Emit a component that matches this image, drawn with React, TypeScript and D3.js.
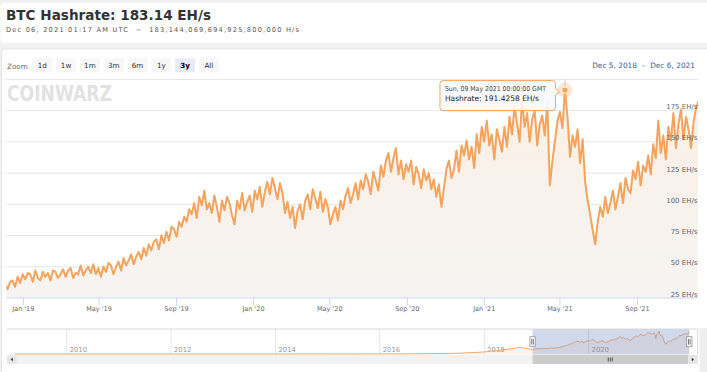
import * as d3 from "d3";

// main series: one value every 4 days from startDate (EH/s)
const startDate = "2018-12-03";
const stepDays = 4;
const hashrate = [
  36, 32, 38, 39, 34, 42, 37, 44,
  40, 45, 44, 38, 47, 41, 39, 46,
  42, 45, 39, 47, 46, 41, 44, 48,
  42, 47, 49, 41, 45, 44, 51, 43,
  47, 50, 45, 52, 44, 49, 42, 50,
  46, 53, 51, 44, 50, 54, 47, 57,
  51, 55, 60, 52, 58, 62, 56, 65,
  59, 68, 63, 70, 72, 64, 75, 69,
  78, 71, 82, 80, 74, 86, 82, 90,
  86, 96, 92, 101, 89, 106, 99, 111,
  96, 101, 93, 107, 98, 86, 103, 95,
  106, 101, 91, 84, 103, 96, 109, 95,
  102, 107, 94, 111, 104, 114, 98, 110,
  118, 108, 121, 113, 104, 117, 109, 93,
  102, 89, 98, 81, 95, 100, 88, 103,
  108, 96, 112, 105, 97, 110, 94, 104,
  98, 84, 92, 98, 87, 103, 96, 107,
  113, 101, 108, 117, 104, 119, 112, 124,
  118, 108, 126, 119, 111, 131, 122, 135,
  141, 126, 137, 145, 124, 135, 120, 132,
  126, 135, 116, 130, 124, 113, 128, 119,
  125, 112, 120, 106, 116, 98, 113, 128,
  135, 121, 128, 143, 126, 147, 139, 151,
  136, 146, 129, 156, 141, 162, 150, 167,
  147, 156, 136, 160, 152, 142, 162, 146,
  170, 156, 178, 165, 150, 184, 162, 173,
  150, 168, 175, 147, 164, 171, 155, 181,
  115, 134, 150, 166, 174, 161, 191.4258, 170,
  138, 155, 146, 160, 133, 152, 118, 103,
  92, 79, 68, 86, 98, 90, 106, 93,
  101, 111, 96, 106, 117, 101, 121, 112,
  109, 127, 120, 134, 115, 131, 126, 139,
  124, 148, 137, 167, 141, 155, 136, 162,
  151, 173, 145, 164, 176, 152, 170, 160,
  145, 166, 177, 183.14,
];

// older history, only shown in the navigator
const historyDates = [
  "2009-01-03", "2010-01-01", "2011-01-01", "2012-01-01", "2013-01-01",
  "2014-01-01", "2015-01-01", "2016-01-01", "2016-07-01", "2017-01-01",
  "2017-07-01", "2018-01-01", "2018-04-01", "2018-07-01", "2018-09-01", "2018-11-01",
];
const historyValues = [0, 0, 0, 0.01, 0.02, 0.01, 0.3, 0.8, 1.5, 2.5, 6, 16, 28, 40, 52, 45];

const xTickDates = [
  "2019-01-01", "2019-05-01", "2019-09-01", "2020-01-01", "2020-05-01",
  "2020-09-01", "2021-01-01", "2021-05-01", "2021-09-01",
];
const xTickLabels = ["Jan '19", "May '19", "Sep '19", "Jan '20", "May '20", "Sep '20", "Jan '21", "May '21", "Sep '21"];
const yTicks = [25, 50, 75, 100, 125, 150, 175, 200];
const navYears = [2010, 2012, 2014, 2016, 2018, 2020];
const zoomButtons = ["1d", "1w", "1m", "3m", "6m", "1y", "3y", "All"];
const selectedButton = "3y";
const rangeStart = "2018-12-05";
const rangeEnd = "2021-12-06";
const navStart = "2008-11-09";
const peakDate = "2021-05-09";

const parse = d3.utcParse("%Y-%m-%d");
const ORANGE = "#f7a35c";
const FONT = "DejaVu Sans";

export default function App() {
  const W = 707;
  const H = 372;
  const plot = { left: 6.3, right: 698, top: 79.4, bottom: 298 };
  const nav = { left: 7, right: 697.7, top: 329, bottom: 354.5 };

  const start = parse(startDate)!;
  const series = hashrate.map((v, i) => ({ date: d3.utcDay.offset(start, i * stepDays), value: v }));

  const x = d3.scaleUtc().domain([parse(rangeStart)!, parse(rangeEnd)!]).range([plot.left, plot.right]);
  const y = d3.scaleLinear().domain([25, 200]).range([plot.bottom, plot.top]);

  const line = d3.line<{ date: Date; value: number }>().x(d => x(d.date)).y(d => y(d.value));
  const area = d3.area<{ date: Date; value: number }>().x(d => x(d.date)).y0(plot.bottom).y1(d => y(d.value));

  const peak = series.find(d => +d.date === +parse(peakDate)!)!;
  const px = x(peak.date);
  const py = y(peak.value);

  // navigator data: history + pairs of the main series averaged
  const navData = historyDates.map((d, i) => ({ date: parse(d)!, value: historyValues[i] }));
  for (let i = 0; i < series.length; i += 2) {
    const grp = series.slice(i, i + 2);
    navData.push({ date: grp[0].date, value: d3.mean(grp, d => d.value)! });
  }
  const nx = d3.scaleUtc().domain([parse(navStart)!, parse(rangeEnd)!]).range([nav.left, 689.3]);
  const ny = d3.scaleLinear().domain([0, d3.max(navData, d => d.value)!]).range([nav.bottom - 0.5, nav.top + 2.5]);
  const navLine = d3.line<{ date: Date; value: number }>().x(d => nx(d.date)).y(d => ny(d.value));
  const navArea = d3.area<{ date: Date; value: number }>().x(d => nx(d.date)).y0(nav.bottom).y1(d => ny(d.value));
  const maskL = nx(parse(rangeStart)!);
  const maskR = nx(parse(rangeEnd)!);

  const fmtValue = d3.format(".4f");
  const tipR = px - 9.5;
  const tipL = tipR - 115.5;
  const tipT = py - 9.5;
  const tipB = py + 20.5;

  return (
    <svg width={W} height={H} style={{ position: "absolute", left: 0, top: 0 }} fontFamily={FONT}>
      <defs>
        <clipPath id="plotClip">
          <rect x={plot.left} y={plot.top - 12} width={plot.right - plot.left} height={plot.bottom - plot.top + 12} />
        </clipPath>
        <linearGradient id="areaFill" gradientUnits="userSpaceOnUse" x1="0" y1={plot.top} x2="0" y2={plot.bottom}>
          <stop offset="0" stopColor="#fbefe4" />
          <stop offset="1" stopColor="#f6f4f2" />
        </linearGradient>
      </defs>

      <rect width={W} height={H} fill="#f1f1f1" />
      <rect x={0.5} y={3} width={W + 5} height={40} rx={4} fill="#fff" />
      <rect x={1.5} y={49} width={W + 5} height={H} rx={4} fill="#fff" stroke="#e4e4e4" />

      <text x={6} y={20} fontSize={13.5} fontWeight="bold" fill="#333" textLength={205} lengthAdjust="spacingAndGlyphs">
        BTC Hashrate: 183.14 EH/s
      </text>
      <text x={6} y={31.5} fontSize={6.6} fill="#555" textLength={293} lengthAdjust="spacing">
        Dec 06, 2021 01:17 AM UTC {"\u00a0"}−{"\u00a0"} 183,144,069,694,925,800,000 H/s
      </text>

      <text x={7} y={68.5} fontSize={7.2} fill="#666">Zoom</text>
      {zoomButtons.map((b, i) => {
        const bx = 32.3 + i * 23.8;
        const sel = b === selectedButton;
        return (
          <g key={b}>
            <rect x={bx} y={58.3} width={20} height={14} fill={sel ? "#e6ebf5" : "#f7f7f7"} />
            <text x={bx + 10} y={68.3} fontSize={7.2} textAnchor="middle" fill={sel ? "#000" : "#333"} fontWeight={sel ? "bold" : "normal"}>
              {b}
            </text>
          </g>
        );
      })}
      <text x={695} y={68} fontSize={7.4} textAnchor="end" fill="#3c5c9e">
        Dec 5, 2018 {"\u00a0"}–{"\u00a0"} Dec 6, 2021
      </text>

      <text x={7} y={100.5} fontSize={22} fontWeight="bold" fill="#e2e2e2" textLength={105} lengthAdjust="spacingAndGlyphs">
        COINWARZ
      </text>

      {yTicks.slice(1).map(t => (
        <line key={t} x1={plot.left} x2={plot.right} y1={y(t)} y2={y(t)} stroke="#e6e6e6" />
      ))}
      <line x1={px} x2={px} y1={plot.top} y2={plot.bottom} stroke="#cccccc" />

      <g clipPath="url(#plotClip)">
        <path d={area(series)!} fill="url(#areaFill)" />
        <path d={line(series)!} fill="none" stroke={ORANGE} strokeWidth={2} strokeLinejoin="round" />
      </g>

      <line x1={plot.left} x2={plot.right} y1={plot.bottom} y2={plot.bottom} stroke="#ccd6eb" />
      {xTickDates.map((d, i) => {
        const tx = x(parse(d)!);
        return (
          <g key={d}>
            <line x1={tx} x2={tx} y1={plot.bottom} y2={plot.bottom + 7} stroke="#ccd6eb" />
            <text x={tx} y={311} fontSize={6.5} textAnchor="middle" fill="#666">
              {xTickLabels[i]}
            </text>
          </g>
        );
      })}
      {yTicks.slice(0, -1).map(t => (
        <text key={t} x={697.5} y={y(t) - 1.5} fontSize={7} textAnchor="end" fill="#666">
          {t} EH/s
        </text>
      ))}

      <circle cx={px} cy={py} r={7.5} fill={ORANGE} opacity={0.25} />
      <circle cx={px} cy={py} r={3.2} fill={ORANGE} stroke="#fff" strokeWidth={0.8} />

      <path
        d={`M${tipL + 3},${tipT} H${tipR - 3} Q${tipR},${tipT} ${tipR},${tipT + 3} V${py - 2} L${tipR + 4},${py + 1.5} L${tipR},${py + 5} V${tipB - 3} Q${tipR},${tipB} ${tipR - 3},${tipB} H${tipL + 3} Q${tipL},${tipB} ${tipL},${tipB - 3} V${tipT + 3} Q${tipL},${tipT} ${tipL + 3},${tipT} Z`}
        fill="rgba(250,250,250,0.92)"
        stroke={ORANGE}
      />
      <text x={tipL + 5} y={tipT + 10.8} fontSize={6.6} fill="#444" textLength={101} lengthAdjust="spacingAndGlyphs">
        {d3.utcFormat("%a, %d %b %Y %H:%M:%S GMT")(peak.date)}
      </text>
      <text x={tipL + 5} y={tipT + 20.5} fontSize={7.6} fill="#222" textLength={94} lengthAdjust="spacingAndGlyphs">
        Hashrate: {fmtValue(peak.value)} EH/s
      </text>

      {/* navigator */}
      {navYears.map(yr => {
        const gx = nx(new Date(Date.UTC(yr, 0, 1)));
        return (
          <g key={yr}>
            <line x1={gx} x2={gx} y1={nav.top} y2={nav.bottom} stroke="#e6e6e6" />
            <text x={gx + 3} y={352} fontSize={6.8} fill="#999">
              {yr}
            </text>
          </g>
        );
      })}
      <path d={navArea(navData)!} fill="#f7a35c" opacity={0.12} />
      <path d={navLine(navData)!} fill="none" stroke={ORANGE} strokeWidth={0.9} />
      <rect x={maskL} y={nav.top} width={maskR - maskL} height={nav.bottom - nav.top} fill="rgba(102,133,194,0.3)" />
      <path d={`M${nav.left},${nav.top} H${nav.right} V${nav.bottom}`} fill="none" stroke="#d8d8d8" />
      {[maskL, maskR].map((hx, i) => (
        <g key={i}>
          <rect x={hx - 2.7} y={336.7} width={5.4} height={10} fill="#f2f2f2" stroke="#999" strokeWidth={0.8} />
          <line x1={hx - 0.8} x2={hx - 0.8} y1={339} y2={344.5} stroke="#333" strokeWidth={0.6} />
          <line x1={hx + 0.8} x2={hx + 0.8} y1={339} y2={344.5} stroke="#333" strokeWidth={0.6} />
        </g>
      ))}

      {/* scrollbar */}
      <rect x={nav.left} y={355} width={nav.right - nav.left} height={9} fill="#f2f2f2" />
      <rect x={maskL} y={355} width={688 - maskL} height={9} fill="#cccccc" />
      {[-2, 0, 2].map(o => (
        <line key={o} x1={(maskL + 688) / 2 + o} x2={(maskL + 688) / 2 + o} y1={357.5} y2={361.5} stroke="#333" strokeWidth={0.8} />
      ))}
      <rect x={nav.left} y={355} width={9.5} height={9} fill="#e6e6e6" />
      <path d={`M${nav.left + 5.8},357.8 L${nav.left + 3.6},359.5 L${nav.left + 5.8},361.2 Z`} fill="#333" />
      <rect x={688.2} y={355} width={9.5} height={9} fill="#e6e6e6" />
      <path d={`M691.8,357.8 L694,359.5 L691.8,361.2 Z`} fill="#333" />

      <rect x={699.5} y={328} width={8} height={44} fill="#eeeeee" />
    </svg>
  );
}
